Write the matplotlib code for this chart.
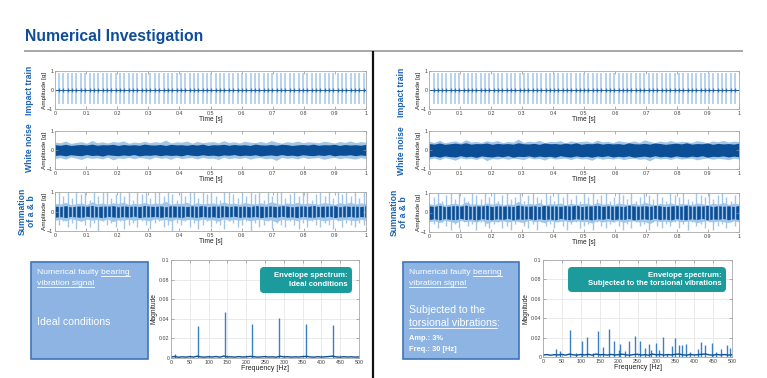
import numpy as np
import matplotlib
matplotlib.use("Agg")
import matplotlib.pyplot as plt
from matplotlib.patches import Rectangle, FancyBboxPatch

plt.rcParams['font.family'] = ['Liberation Sans', 'DejaVu Sans']

# ---------------- data ----------------
title = "Numerical Investigation"
row_labels = ["Impact train", "White noise", "Summation\nof a & b"]
time_ticks = [0, 0.1, 0.2, 0.3, 0.4, 0.5, 0.6, 0.7, 0.8, 0.9, 1]
time_tick_labels = ["0", "0.1", "0.2", "0.3", "0.4", "0.5", "0.6", "0.7", "0.8", "0.9", "1"]
amp_ticks = [-1, 0, 1]
freq_ticks = [0, 50, 100, 150, 200, 250, 300, 350, 400, 450, 500]
mag_ticks = [0, 0.02, 0.04, 0.06, 0.08, 0.1]
mag_tick_labels = ["0", "0.02", "0.04", "0.06", "0.08", "0.1"]

# impact times (ms)
impacts_L_ms = [13, 27, 41, 55, 69, 83, 97, 111, 125, 139,
                153, 167, 181, 195, 209, 223, 237, 251, 265, 279,
                293, 307, 321, 335, 349, 363, 377, 391, 405, 419,
                433, 447, 461, 475, 489, 503, 517, 531, 545, 559,
                573, 587, 601, 615, 629, 643, 657, 671, 685, 699,
                713, 727, 741, 755, 769, 783, 797, 811, 825, 839,
                853, 867, 881, 895, 909, 923, 937, 951, 965, 979,
                993]
impacts_R_ms = [15, 29, 42, 56, 70, 84, 98, 112, 126, 139,
                153, 167, 181, 195, 209, 223, 237, 251, 264, 278,
                292, 306, 320, 334, 348, 362, 376, 389, 403, 417,
                431, 445, 459, 473, 487, 501, 514, 528, 542, 556,
                570, 584, 598, 612, 626, 639, 653, 667, 681, 695,
                709, 723, 737, 751, 764, 778, 792, 806, 820, 834,
                848, 862, 876, 889, 903, 917, 931, 945, 959, 973,
                987]
impact_top = 0.9
impact_bottom = -0.72

# white-noise envelopes (hundredths of g)
noise_L_hi = [42, 38, 47, 35, 40, 44, 36, 50, 39, 43, 37, 45, 41, 48, 36, 42, 39, 46, 38, 44,
              40, 52, 37, 43, 41, 47, 36, 45, 39, 42, 44, 38, 49, 40, 43, 37, 46, 41, 39, 45,
              38, 50, 42, 36, 44, 40, 47, 39, 43, 41, 38, 46, 42, 37, 45, 40, 48, 39, 44, 41]
noise_L_lo = [-45, -40, -48, -37, -43, -50, -39, -44, -41, -47, -38, -52, -42, -45, -39, -46, -40, -43, -48, -37,
              -44, -41, -49, -38, -45, -42, -40, -47, -39, -44, -43, -50, -38, -46, -41, -45, -39, -48, -42, -40,
              -46, -43, -55, -39, -44, -41, -47, -38, -45, -42, -40, -49, -43, -39, -46, -41, -44, -48, -40, -45]
dark_L_hi = [28, 25, 30, 24, 27, 29, 26, 31, 25, 28, 27, 30, 24, 29, 26, 28, 25, 31, 27, 26,
             29, 24, 30, 27, 28, 25, 29, 26, 31, 24, 28, 27, 30, 25, 29, 26, 28, 24, 31, 27,
             26, 29, 25, 30, 28, 24, 27, 29, 26, 31, 25, 28, 27, 30, 24, 29, 26, 28, 25, 30]
dark_L_lo = [-29, -26, -31, -25, -28, -30, -24, -29, -27, -32, -25, -28, -30, -26, -29, -24, -31, -27, -28, -25,
             -30, -26, -29, -27, -31, -24, -28, -30, -25, -29, -27, -31, -26, -28, -24, -30, -27, -29, -25, -31,
             -28, -26, -30, -24, -29, -27, -31, -25, -28, -30, -26, -29, -24, -31, -27, -28, -25, -30, -26, -29]
noise_R_hi = [46, 40, 51, 38, 44, 48, 39, 54, 42, 45, 40, 49, 43, 50, 39, 45, 42, 57, 40, 47,
              43, 51, 39, 46, 44, 49, 38, 48, 42, 45, 47, 40, 52, 43, 46, 39, 49, 44, 41, 48,
              40, 53, 45, 39, 47, 42, 50, 41, 46, 44, 40, 49, 45, 39, 48, 43, 51, 42, 47, 44]
noise_R_lo = [-48, -42, -52, -40, -46, -54, -41, -47, -44, -50, -40, -56, -45, -48, -42, -49, -43, -46, -51, -40,
              -47, -44, -53, -41, -48, -45, -43, -50, -42, -47, -46, -54, -41, -49, -44, -48, -42, -51, -45, -43,
              -49, -46, -57, -42, -47, -44, -50, -41, -48, -45, -43, -52, -46, -42, -49, -44, -47, -51, -43, -48]
dark_R_hi = [34, 31, 37, 30, 33, 36, 32, 38, 31, 34, 33, 37, 30, 35, 32, 34, 31, 38, 33, 32,
             35, 30, 37, 33, 34, 31, 36, 32, 38, 30, 34, 33, 37, 31, 35, 32, 34, 30, 38, 33,
             32, 35, 31, 37, 34, 30, 33, 36, 32, 38, 31, 34, 33, 37, 30, 35, 32, 34, 31, 36]
dark_R_lo = [-36, -32, -38, -31, -35, -37, -30, -36, -33, -39, -31, -35, -37, -32, -36, -30, -38, -33, -35, -31,
             -37, -32, -36, -33, -38, -30, -35, -37, -31, -36, -33, -38, -32, -35, -30, -37, -33, -36, -31, -38,
             -35, -32, -37, -30, -36, -33, -38, -31, -35, -37, -32, -36, -30, -38, -33, -35, -31, -37, -32, -36]

# summation spikes (tenths of g)
sum_top_L = [10, 8, 10, 7, 10, 9, 10, 6, 10, 8,
             10, 10, 7, 9, 10, 8, 10, 6, 10, 9,
             10, 7, 10, 10, 8, 10, 9, 6, 10, 8,
             10, 10, 7, 10, 9, 10, 8, 6, 10, 10,
             9, 7, 10, 8, 10, 9, 10, 6, 10, 8,
             10, 10, 7, 9, 10, 8, 10, 10, 6, 9,
             10, 8, 10, 7, 10, 9, 10, 8, 10, 7,
             10]
sum_bot_L = [-7, -5, -8, -6, -9, -5, -7, -8, -6, -10,
             -5, -7, -6, -8, -5, -9, -7, -6, -8, -5,
             -7, -9, -6, -5, -8, -7, -10, -6, -7, -5,
             -8, -6, -9, -7, -5, -8, -6, -7, -9, -5,
             -6, -8, -7, -5, -10, -6, -8, -7, -5, -9,
             -6, -7, -8, -5, -7, -9, -6, -8, -5, -7,
             -8, -6, -7, -9, -5, -8, -6, -7, -8, -6,
             -7]
sum_top_R = [8, 10, 6, 9, 10, 7, 10, 8, 6, 10,
             9, 7, 10, 8, 10, 6, 9, 10, 7, 8,
             10, 6, 9, 10, 8, 7, 10, 9, 6, 10,
             8, 10, 7, 9, 6, 10, 8, 10, 7, 9,
             10, 6, 8, 10, 9, 7, 10, 6, 8, 10,
             9, 7, 10, 8, 6, 10, 9, 8, 10, 7,
             6, 10, 9, 8, 10, 7, 9, 10, 8, 6,
             9]
sum_bot_R = [-6, -8, -5, -7, -9, -6, -8, -5, -7, -6,
             -9, -5, -7, -8, -6, -5, -8, -7, -9, -6,
             -5, -7, -8, -6, -9, -5, -7, -6, -8, -5,
             -7, -9, -6, -5, -8, -7, -6, -9, -5, -7,
             -8, -6, -5, -7, -9, -6, -8, -5, -7, -6,
             -9, -5, -7, -8, -6, -7, -5, -8, -6, -9,
             -5, -7, -6, -8, -5, -9, -7, -6, -8, -5,
             -7]

# envelope spectra
spec_base_f = [0, 10, 20, 30, 40, 50, 60, 70, 80, 90, 100, 110, 120, 130, 140, 150, 160, 170, 180, 190,
               200, 210, 220, 230, 240, 250, 260, 270, 280, 290, 300, 310, 320, 330, 340, 350, 360, 370, 380, 390,
               400, 410, 420, 430, 440, 450, 460, 470, 480, 490, 500]
spec_base_L = [0.0010, 0.0015, 0.0008, 0.0012, 0.0009, 0.0014, 0.0010, 0.0018, 0.0011, 0.0009, 0.0013,
               0.0010, 0.0015, 0.0008, 0.0020, 0.0011, 0.0012, 0.0009, 0.0014, 0.0010, 0.0012,
               0.0016, 0.0013, 0.0009, 0.0011, 0.0014, 0.0010, 0.0012, 0.0008, 0.0018, 0.0011,
               0.0013, 0.0009, 0.0012, 0.0010, 0.0014, 0.0017, 0.0011, 0.0009, 0.0013, 0.0010,
               0.0012, 0.0015, 0.0019, 0.0011, 0.0009, 0.0013, 0.0010, 0.0012, 0.0009, 0.0011]
spec_base_R = [0.0020, 0.0025, 0.0018, 0.0024, 0.0021, 0.0027, 0.0019, 0.0030, 0.0022, 0.0020, 0.0026,
               0.0021, 0.0028, 0.0019, 0.0030, 0.0023, 0.0025, 0.0020, 0.0027, 0.0021, 0.0024,
               0.0029, 0.0022, 0.0019, 0.0025, 0.0028, 0.0020, 0.0024, 0.0019, 0.0030, 0.0022,
               0.0026, 0.0020, 0.0025, 0.0021, 0.0028, 0.0030, 0.0022, 0.0019, 0.0026, 0.0021,
               0.0024, 0.0028, 0.0031, 0.0022, 0.0020, 0.0026, 0.0021, 0.0025, 0.0020, 0.0023]
peaks_L_f = [10, 71.5, 143, 215, 286, 358, 430]
peaks_L_a = [0.004, 0.033, 0.047, 0.035, 0.041, 0.035, 0.034]
peaks_R_f = [34, 46, 72, 88, 103, 116, 132, 145, 158, 175, 187, 200, 204, 217, 228, 244, 257, 270, 280,
             287, 300, 308, 317, 327, 341, 348, 359, 368, 379, 390, 409, 417, 428, 447, 457, 472, 488, 496]
peaks_R_a = [0.008, 0.006, 0.028, 0.004, 0.017, 0.021, 0.004, 0.027, 0.010, 0.029, 0.017, 0.007, 0.013,
             0.006, 0.016, 0.022, 0.017, 0.009, 0.013, 0.007, 0.014, 0.007, 0.021, 0.003, 0.011, 0.020,
             0.012, 0.012, 0.013, 0.005, 0.008, 0.015, 0.012, 0.014, 0.005, 0.008, 0.012, 0.009]

# ---------------- style ----------------
DARK = '#0C4E95'
LIGHT = '#A2C6E8'
SPIKE = '#3A80C4'
LABEL_BLUE = '#1B62B3'
TITLE_BLUE = '#0F4C9A'
AX_GRAY = '#A8A8A8'
TXT_GRAY = '#404040'
W, H = 767, 378

fig = plt.figure(figsize=(W / 100, H / 100), dpi=100)


def ax_px(l, t, r, b, **kw):
    return fig.add_axes([l / W, 1 - b / H, (r - l) / W, (b - t) / H], **kw)


def style(ax):
    for s in ax.spines.values():
        s.set_color(AX_GRAY)
        s.set_linewidth(0.6)
    ax.tick_params(direction='in', length=2, width=0.5, labelsize=3.8, pad=1.2,
                   top=True, right=True, color='#909090', labelcolor=TXT_GRAY)


def time_ax(l, t, r, b):
    ax = ax_px(l, t, r, b)
    ax.set_xlim(0, 1)
    ax.set_ylim(-1, 1)
    ax.set_xticks(time_ticks)
    ax.set_xticklabels(time_tick_labels)
    ax.set_yticks(amp_ticks)
    style(ax)
    ax.set_xlabel('Time [s]', fontsize=4.8, labelpad=0.5, color='#202020')
    ax.set_ylabel('Amplitude [g]', fontsize=4.6, labelpad=0.5, color='#202020')
    return ax


def draw_impacts(ax, times_ms):
    t = np.array(times_ms) / 1000.0
    ax.vlines(t, impact_bottom, impact_top, color=LIGHT, lw=1.1)
    ax.vlines(t, -0.12, 0.12, color='#3B7CC0', lw=1.0)
    ax.axhline(0, color=DARK, lw=0.6)


def draw_noise(ax, hi, lo, dhi, dlo, spikes=None):
    x = np.linspace(0, 1, len(hi))
    ax.fill_between(x, np.array(lo) / 100, np.array(hi) / 100, color=LIGHT, lw=0)
    if spikes is not None:
        times_ms, tops, bots = spikes
        t = np.array(times_ms) / 1000.0
        n = min(len(t), len(tops), len(bots))
        ax.vlines(t[:n], np.array(bots[:n]) / 10, np.array(tops[:n]) / 10, color=LIGHT, lw=1.0)
    ax.fill_between(x, np.array(dlo) / 100, np.array(dhi) / 100, color=DARK, lw=0)


def spec_ax(l, t, r, b, base, pf, pa):
    ax = ax_px(l, t, r, b)
    ax.set_xlim(0, 500)
    ax.set_ylim(0, 0.1)
    ax.set_xticks(freq_ticks)
    ax.set_yticks(mag_ticks)
    ax.set_yticklabels(mag_tick_labels)
    style(ax)
    ax.grid(True, color='#E2E2E2', lw=0.5)
    ax.set_axisbelow(True)
    ax.vlines(pf, 0, pa, color=SPIKE, lw=1.0)
    ax.plot(spec_base_f, base, color=DARK, lw=1.0)
    ax.set_xlabel('Frequency [Hz]', fontsize=5, labelpad=0.5, color='#202020')
    ax.set_ylabel('Magnitude', fontsize=4.8, labelpad=1, color='#202020')
    return ax


# left column
a = time_ax(55, 71, 366, 109)
draw_impacts(a, impacts_L_ms)
a = time_ax(55, 131, 366, 169)
draw_noise(a, noise_L_hi, noise_L_lo, dark_L_hi, dark_L_lo)
a = time_ax(55, 192, 366, 231)
draw_noise(a, noise_L_hi, noise_L_lo, dark_L_hi, dark_L_lo, (impacts_L_ms, sum_top_L, sum_bot_L))
spec_ax(171, 260, 359, 358, spec_base_L, peaks_L_f, peaks_L_a)

# right column
a = time_ax(429, 71, 739, 109)
draw_impacts(a, impacts_R_ms)
a = time_ax(429, 131, 739, 169)
draw_noise(a, noise_R_hi, noise_R_lo, dark_R_hi, dark_R_lo)
a = time_ax(429, 193, 739, 232)
draw_noise(a, noise_R_hi, noise_R_lo, dark_R_hi, dark_R_lo, (impacts_R_ms, sum_top_R, sum_bot_R))
spec_ax(543, 260, 732, 357, spec_base_R, peaks_R_f, peaks_R_a)

# overlay in pixel coordinates
ov = fig.add_axes([0, 0, 1, 1], zorder=10)
ov.set_xlim(0, W)
ov.set_ylim(H, 0)
ov.axis('off')

ov.text(25, 41, title, fontsize=11.3, fontweight='bold', color=TITLE_BLUE, va='baseline', ha='left')
ov.plot([24, 743], [51, 51], color='#A0A0A0', lw=1.3, solid_capstyle='butt')
ov.plot([372.5, 372.5], [51, H], color='#111111', lw=1.6, solid_capstyle='butt')

for xc, ys in [(30, (90, 148, 211)), (402, (92, 151, 212))]:
    for lab, yc in zip(row_labels, ys):
        ov.text(xc if '\n' not in lab else xc - 3, yc, lab, rotation=90, fontsize=6.2, fontweight='bold',
                color=LABEL_BLUE, ha='center', va='center', linespacing=1.05, multialignment='center')

# blue info boxes
for (l, t, r, b) in [(31, 262, 148, 359), (403, 262, 519, 359)]:
    ov.add_patch(Rectangle((l, t), r - l, b - t, facecolor='#8DB4E3', edgecolor='#3F74B9', lw=1.2))


# teal labels
def teal(l, t, r, b, lines):
    ov.add_patch(FancyBboxPatch((l, t), r - l, b - t, boxstyle='round,pad=0,rounding_size=4',
                                facecolor='#1C9B9D', edgecolor='none'))
    ov.text(r - 4, (t + b) / 2, lines, fontsize=5.6, fontweight='bold', color='white',
            ha='right', va='center', multialignment='right', linespacing=1.35)


teal(260, 267, 352, 293, "Envelope spectrum:\nIdeal conditions")
teal(568, 267, 726, 292, "Envelope spectrum:\nSubjected to the torsional vibrations")

fig.canvas.draw()
r = fig.canvas.get_renderer()
inv = ov.transData.inverted()


def text_width(s, size):
    tmp = ov.text(0, 0, s, fontsize=size)
    e = tmp.get_window_extent(r)
    tmp.remove()
    return inv.transform((e.x1, 0))[0] - inv.transform((e.x0, 0))[0]


def underline(x0, x1, y):
    ov.plot([x0, x1], [y, y], color='white', lw=0.6)


for x0 in (37, 409):
    ov.text(x0, 272, "Numerical faulty bearing", fontsize=6.1, color='white', ha='left', va='center')
    ov.text(x0, 283.5, "vibration signal", fontsize=6.1, color='white', ha='left', va='center')
    wfull = text_width("Numerical faulty bearing", 6.1)
    wb = text_width("bearing", 6.1)
    underline(x0 + wfull - wb, x0 + wfull, 275.6)
    underline(x0, x0 + text_width("vibration signal", 6.1), 287.1)

ov.text(37, 322, "Ideal conditions", fontsize=7.6, color='white', ha='left', va='center')
ov.text(409, 310, "Subjected to the", fontsize=7.6, color='white', ha='left', va='center')
ov.text(409, 323, "torsional vibrations:", fontsize=7.6, color='white', ha='left', va='center')
underline(409, 409 + text_width("torsional vibrations", 7.6), 327.6)
ov.text(409, 339, "Amp.: 3%", fontsize=5.4, fontweight='bold', color='white', ha='left', va='center')
ov.text(409, 349.5, "Freq.: 30 [Hz]", fontsize=5.4, fontweight='bold', color='white', ha='left', va='center')

fig.savefig('out.png', dpi=100)
